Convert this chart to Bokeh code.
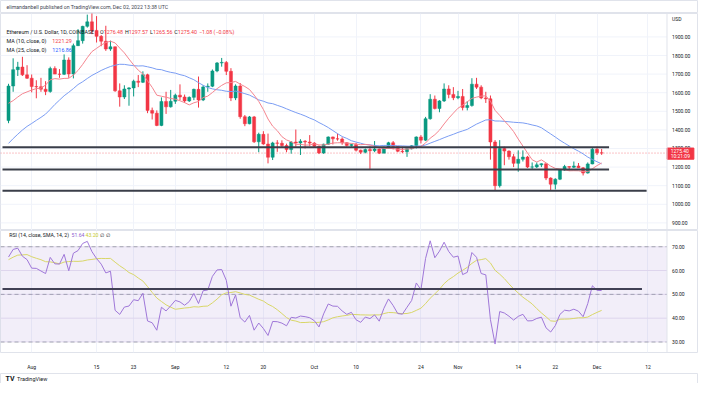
import numpy as np
import pandas as pd
from bokeh.plotting import figure
from bokeh.models import Range1d, FixedTicker, Label, Span, BoxAnnotation
from bokeh.models import ColumnDataSource
from bokeh.core.properties import value
from bokeh.layouts import column
from bokeh.embed import file_html
from bokeh.resources import INLINE

# ---------------- data (ETH/USD daily) ----------------
start_date = "2022-07-27"
opens = [1450, 1636, 1724, 1738, 1696, 1678, 1633, 1632, 1619, 1607, 1730, 1700, 1699, 1776, 1701,
         1853, 1880, 1957, 1981, 1935, 1903, 1877, 1835, 1847, 1610, 1577, 1620, 1626, 1662, 1656,
         1697, 1505, 1490, 1424, 1553, 1524, 1554, 1587, 1577, 1556, 1575, 1618, 1561, 1631, 1635,
         1717, 1760, 1763, 1715, 1572, 1636, 1471, 1433, 1470, 1336, 1376, 1324, 1253, 1330, 1328,
         1316, 1294, 1335, 1330, 1339, 1335, 1329, 1312, 1276, 1323, 1362, 1352, 1351, 1331, 1316,
         1322, 1291, 1280, 1294, 1288, 1297, 1275, 1306, 1331, 1311, 1285, 1283, 1299, 1315, 1362,
         1345, 1460, 1565, 1515, 1556, 1620, 1591, 1573, 1580, 1520, 1531, 1646, 1630, 1572, 1567,
         1335, 1100, 1300, 1286, 1256, 1220, 1242, 1254, 1200, 1201, 1212, 1218, 1141, 1108, 1135,
         1184, 1203, 1199, 1206, 1196, 1168, 1217, 1296, 1276.48]
highs = [1648, 1785, 1766, 1793, 1748, 1698, 1667, 1680, 1662, 1740, 1742, 1727, 1806, 1790, 1864,
         1942, 1960, 2020, 2030, 2012, 1910, 1960, 1880, 1848, 1650, 1640, 1630, 1670, 1695, 1715,
         1702, 1520, 1505, 1575, 1605, 1615, 1595, 1645, 1590, 1580, 1622, 1687, 1640, 1650, 1725,
         1765, 1787, 1770, 1732, 1645, 1652, 1480, 1475, 1475, 1385, 1393, 1380, 1336, 1345, 1344,
         1326, 1340, 1402, 1350, 1345, 1372, 1334, 1316, 1326, 1365, 1364, 1380, 1360, 1333, 1325,
         1330, 1294, 1300, 1312, 1340, 1300, 1310, 1336, 1340, 1312, 1310, 1300, 1318, 1365, 1372,
         1470, 1592, 1585, 1560, 1650, 1640, 1630, 1610, 1620, 1555, 1678, 1680, 1640, 1605, 1585,
         1345, 1345, 1310, 1290, 1270, 1290, 1290, 1260, 1225, 1225, 1220, 1220, 1145, 1140, 1185,
         1212, 1205, 1230, 1222, 1200, 1225, 1305, 1310, 1297.57]
lows = [1436, 1605, 1690, 1690, 1674, 1602, 1570, 1605, 1587, 1600, 1700, 1680, 1695, 1680, 1677,
        1851, 1864, 1950, 1915, 1870, 1850, 1825, 1825, 1605, 1525, 1566, 1530, 1580, 1630, 1652,
        1490, 1456, 1420, 1420, 1486, 1520, 1540, 1560, 1545, 1550, 1560, 1520, 1555, 1605, 1630,
        1710, 1740, 1695, 1555, 1560, 1460, 1420, 1430, 1330, 1280, 1320, 1220, 1238, 1282, 1305,
        1280, 1272, 1310, 1265, 1300, 1313, 1305, 1270, 1271, 1320, 1322, 1342, 1320, 1310, 1310,
        1284, 1270, 1274, 1190, 1280, 1270, 1275, 1300, 1295, 1280, 1275, 1255, 1295, 1300, 1327,
        1340, 1455, 1510, 1495, 1550, 1570, 1560, 1565, 1505, 1505, 1525, 1620, 1565, 1545, 1240,
        1075, 1090, 1210, 1240, 1200, 1175, 1230, 1195, 1190, 1195, 1200, 1130, 1075, 1080, 1130,
        1180, 1180, 1195, 1195, 1155, 1165, 1215, 1265, 1265.56]
closes = [1636, 1724, 1738, 1696, 1678, 1633, 1632, 1619, 1607, 1730, 1700, 1699, 1776, 1701, 1853,
          1880, 1957, 1981, 1935, 1903, 1877, 1835, 1847, 1610, 1577, 1620, 1626, 1662, 1656, 1697,
          1505, 1490, 1424, 1553, 1524, 1554, 1587, 1577, 1556, 1575, 1618, 1561, 1631, 1635, 1717,
          1760, 1763, 1715, 1572, 1636, 1471, 1433, 1470, 1336, 1376, 1324, 1253, 1330, 1328, 1316,
          1294, 1335, 1330, 1339, 1335, 1329, 1312, 1276, 1323, 1362, 1352, 1351, 1331, 1316, 1322,
          1291, 1280, 1294, 1288, 1297, 1275, 1306, 1331, 1311, 1285, 1283, 1299, 1315, 1362, 1345,
          1460, 1565, 1515, 1556, 1620, 1591, 1573, 1580, 1520, 1531, 1646, 1630, 1572, 1567, 1335,
          1100, 1300, 1286, 1256, 1220, 1242, 1254, 1200, 1201, 1212, 1218, 1141, 1108, 1135, 1184,
          1203, 1199, 1206, 1196, 1168, 1217, 1296, 1276.48, 1275.40]
# closes of the days before the first visible candle (feed the MA / RSI look-back)
warmup_closes = [1127, 1124, 1051, 1143, 1226, 1243, 1199, 1193, 1143, 1098, 1068, 1060, 1067,
                 1075, 1150, 1135, 1187, 1238, 1215, 1218, 1168, 1097, 1038, 1112, 1192, 1233,
                 1355, 1339, 1580, 1543, 1522, 1577, 1535, 1552, 1597, 1439, 1450]

axis_origin = "2022-08-01"
tick_dates = ["2022-08-01", "2022-08-15", "2022-08-23", "2022-09-01", "2022-09-12", "2022-09-20",
              "2022-10-01", "2022-10-10", "2022-10-24", "2022-11-01", "2022-11-14", "2022-11-22",
              "2022-12-01", "2022-12-12"]
tick_labels = ["Aug", "15", "23", "Sep", "12", "20", "Oct", "10", "24", "Nov", "14", "22", "Dec", "12"]
price_ticks = [900, 1000, 1100, 1200, 1300, 1400, 1500, 1600, 1700, 1800, 1900]
rsi_ticks = [30, 40, 50, 60, 70]
rsi_dashed = [70, 50, 30]

# hand-drawn horizontal levels (price, from-day, to-day relative to Aug 1)
level_prices = [1307, 1187, 1073]
level_from = [-6.3, -6.3, -6.3]
level_to = [124.6, 124.6, 132.7]
rsi_level = [52.2]
rsi_level_from = [-6.3]
rsi_level_to = [131.7]

ma10_text = "1221.29"
ma25_text = "1216.86"
rsi_text = "51.64"
rsi_ma_text = "43.20"
countdown_text = "10:21:09"

# ---------------- indicators ----------------
all_c = np.array(warmup_closes + closes, dtype=float)
n_w = len(warmup_closes)
ma10 = pd.Series(all_c).rolling(10).mean().values[n_w:]
ma25 = pd.Series(all_c).rolling(25).mean().values[n_w:]


def rma(v, n):
    out = np.full(len(v), np.nan)
    out[n - 1] = v[:n].mean()
    for i in range(n, len(v)):
        out[i] = (out[i - 1] * (n - 1) + v[i]) / n
    return out


d = np.diff(all_c)
up = rma(np.maximum(d, 0), 14)
dn = rma(np.maximum(-d, 0), 14)
rsi_all = np.concatenate([[np.nan], 100 - 100 / (1 + up / dn)])
rsi_ma_all = pd.Series(rsi_all).rolling(14).mean().values
rsi = rsi_all[n_w:]
rsi_ma = rsi_ma_all[n_w:]

dates = pd.date_range(start_date, periods=len(closes), freq="D")
origin = pd.Timestamp(axis_origin)
xs = np.array((dates - origin).days, dtype=float)
tick_x = [float((pd.Timestamp(t) - origin).days) for t in tick_dates]

UP, DOWN = "#089981", "#f23645"
colors = [UP if c >= o else DOWN for o, c in zip(opens, closes)]
src = ColumnDataSource(dict(x=xs, o=opens, h=highs, l=lows, c=closes,
                            top=np.maximum(opens, closes), bottom=np.minimum(opens, closes),
                            color=colors))

FONT = "Roboto"
DARK = "#131722"
GRID = "#f0f3fa"
OUT = "#e0e3eb"

W = 698
X0, X1 = -6.73, 143.9      # full width of the panes (axis strip included)
SEP = 137.1                # pane / price-scale separator
LAB_X = 138.2              # price-scale label column
x_rng = Range1d(X0, X1)


def base(h, y_rng, **kw):
    p = figure(width=W, height=h, x_range=x_rng, y_range=y_rng, x_axis_location=None,
               y_axis_location=None, toolbar_location=None, output_backend="svg", title=None,
               min_border_left=0, min_border_right=0, min_border_top=0, min_border_bottom=0, **kw)
    p.outline_line_color = OUT
    p.background_fill_color = "white"
    p.border_fill_color = "white"
    p.xgrid.visible = False
    p.ygrid.visible = False
    return p


def lab(fig, x, y, text, color, size="5.4px", style="normal"):
    fig.add_layout(Label(x=x, y=y, x_units="screen", y_units="screen", text=text,
                         text_color=color, text_font_size=size, text_font=FONT,
                         text_font_style=style, text_align="left", text_baseline="middle"))


def scale_labels(fig, ys, texts):
    fig.text(x=[LAB_X] * len(ys), y=ys, text=texts, text_font=value(FONT),
             text_font_size=value("5px"), text_color=DARK, text_baseline="middle",
             text_align="left")


def vgrid(fig):
    fig.xgrid.visible = True
    fig.xgrid.ticker = FixedTicker(ticks=tick_x)
    fig.xgrid.grid_line_color = GRID


# ---- header ----
pH = base(13, Range1d(0, 1))
lab(pH, 5.9, 6.6, "elimandanbell published on TradingView.com, Dec 02, 2022 13:38 UTC",
    "#434651", "5.2px")

# ---- price pane ----
pA = base(217, Range1d(859, 2026))
vgrid(pA)
pA.segment(x0=[X0] * len(price_ticks), x1=[SEP] * len(price_ticks), y0=price_ticks,
           y1=price_ticks, line_color=GRID, line_width=1)
pA.add_layout(Span(location=SEP, dimension="height", line_color=OUT, line_width=1))
pA.segment(x0=[X0], x1=[SEP], y0=[closes[-1]], y1=[closes[-1]], line_color=DOWN,
           line_dash="1 2", line_alpha=0.6, line_width=1)
pA.segment(x0="x", y0="h", x1="x", y1="l", color="color", line_width=1, source=src)
pA.vbar(x="x", width=0.66, top="top", bottom="bottom", fill_color="color",
        line_color="color", line_width=0.5, source=src)
pA.line(xs, ma25, line_color="#7b9df3", line_width=1)
pA.line(xs, ma10, line_color="#f4858f", line_width=1)
pA.segment(x0=level_from, x1=level_to, y0=level_prices, y1=level_prices,
           line_color="#3a3e49", line_width=2)

scale_labels(pA, price_ticks, [f"{t:.2f}" for t in price_ticks])
scale_labels(pA, [1995], ["USD"])
# last-price badge on the price scale
pA.quad(left=[SEP], right=[SEP + 5.8], top=[closes[-1] + 27], bottom=[closes[-1] - 33],
        fill_color=DOWN, line_color=DOWN)
pA.text(x=[LAB_X - 0.3] * 2, y=[closes[-1] + 11, closes[-1] - 18],
        text=[f"{closes[-1]:.2f}", countdown_text], text_font=value(FONT),
        text_font_size=value("5px"), text_color="white", text_baseline="middle",
        text_align="left")

FH = 217
y1 = FH - 18.2
lab(pA, 5.9, y1, "Ethereum / U.S. Dollar, 1D, COINBASE", DARK, "5.3px")
chg = closes[-1] - closes[-2]
pct = chg / closes[-2] * 100
parts = [("O", 99.6, DARK), (f"{opens[-1]:.2f}", 103.3, DOWN),
         ("H", 124.4, DARK), (f"{highs[-1]:.2f}", 128.2, DOWN),
         ("L", 149.6, DARK), (f"{lows[-1]:.2f}", 152.6, DOWN),
         ("C", 173.7, DARK), (f"{closes[-1]:.2f}", 177.3, DOWN),
         (f"{chg:+.2f} ({pct:+.2f}%)".replace("-", "\u2212"), 198.4, DOWN)]
for t, px, col in parts:
    lab(pA, px, y1, t, col, "5.3px")
lab(pA, 5.9, FH - 27.8, "MA (10, close, 0)", DARK)
lab(pA, 51.8, FH - 27.8, ma10_text, DOWN)
lab(pA, 5.9, FH - 36.5, "MA (25, close, 0)", DARK)
lab(pA, 51.8, FH - 36.5, ma25_text, "#2962ff")

# ---- RSI pane ----
pB = figure(width=W, height=142, x_range=x_rng, y_range=Range1d(25.6, 76.8),
            y_axis_location=None, toolbar_location=None, output_backend="svg", title=None,
            min_border_left=0, min_border_right=0, min_border_top=0, min_border_bottom=19)
pB.outline_line_color = OUT
pB.border_fill_color = "white"
pB.ygrid.visible = False
pB.xgrid.ticker = FixedTicker(ticks=tick_x)
pB.xgrid.grid_line_color = GRID
xa = pB.xaxis[0]
xa.ticker = FixedTicker(ticks=tick_x)
xa.major_label_overrides = {tx: lb for tx, lb in zip(tick_x, tick_labels)}
xa.major_tick_line_color = None
xa.minor_tick_line_color = None
xa.axis_line_color = None
xa.major_label_text_font_size = "5px"
xa.major_label_text_font = FONT
xa.major_label_text_color = DARK
xa.major_label_standoff = 5

pB.add_layout(BoxAnnotation(left=X0, right=SEP, bottom=min(rsi_dashed), top=max(rsi_dashed),
                            fill_color="#7e57c2", fill_alpha=0.1, line_color=None))
pB.segment(x0=[X0] * len(rsi_ticks), x1=[SEP] * len(rsi_ticks), y0=rsi_ticks, y1=rsi_ticks,
           line_color="#e9e4f2", line_width=1)
pB.segment(x0=[X0] * len(rsi_dashed), x1=[SEP] * len(rsi_dashed), y0=rsi_dashed,
           y1=rsi_dashed, line_color="#9598a1", line_dash="4 3", line_width=1, line_alpha=0.8)
pB.add_layout(Span(location=SEP, dimension="height", line_color=OUT, line_width=1))
pB.line(xs, rsi_ma, line_color="#e3e55e", line_width=1)
pB.line(xs, rsi, line_color="#a37bdb", line_width=1)
pB.segment(x0=rsi_level_from, x1=rsi_level_to, y0=rsi_level, y1=rsi_level,
           line_color="#3a3e49", line_width=2)
scale_labels(pB, rsi_ticks, [f"{t:.2f}" for t in rsi_ticks])

RH = 123
yr = RH - 5.2
lab(pB, 8.8, yr, "RSI (14, close, SMA, 14, 2)", DARK, "5.2px")
lab(pB, 71.0, yr, rsi_text, "#8e5fd0", "5.2px")
lab(pB, 85.0, yr, rsi_ma_text, "#c6cb2a", "5.2px")
lab(pB, 99.0, yr, "\u2205", DARK, "5.2px")
lab(pB, 105.5, yr, "\u2205", DARK, "5.2px")

# ---- footer ----
pF = base(11, Range1d(0, 1))
lab(pF, 5.0, 5.2, "TV", DARK, "7px", "bold")
lab(pF, 16.6, 5.2, "TradingView", DARK, "5.5px")

layout = column(pH, pA, pB, pF, spacing=0)
open("out.html", "w").write(file_html(layout, INLINE))
